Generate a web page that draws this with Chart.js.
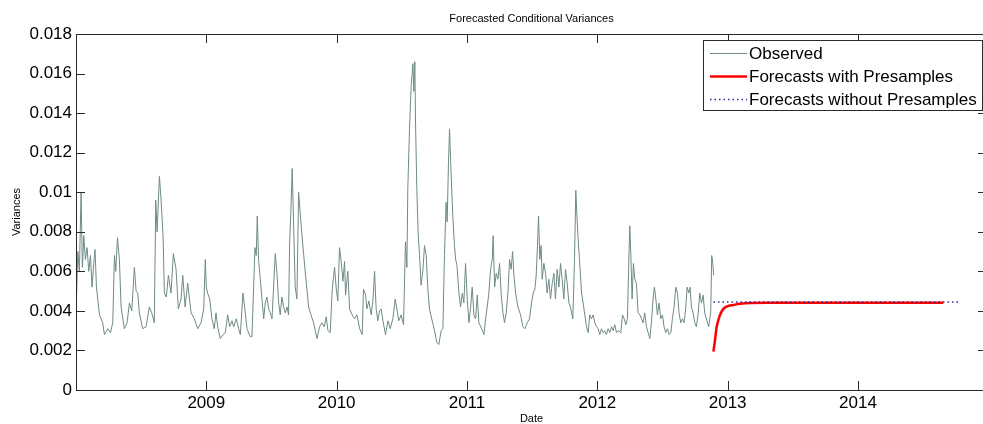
<!DOCTYPE html>
<html>
<head>
<meta charset="utf-8">
<title>Forecasted Conditional Variances</title>
<script src="https://cdn.jsdelivr.net/npm/chart.js@4.4.1/dist/chart.umd.min.js"></script>
<style>
    html, body { margin: 0; padding: 0; background: #fff; overflow: hidden; }
    #caixa { width: 983px; height: 424px; overflow: hidden; }
</style>
</head>
<body>
<div id="caixa"><canvas id="grafico" width="992" height="424"></canvas></div>
<script>
// Observed conditional variances (decimal years)
const obsYears = [
    2008.003, 2008.014, 2008.026, 2008.039, 2008.049, 2008.060, 2008.072, 2008.085, 2008.098, 2008.111,
    2008.123, 2008.136, 2008.146, 2008.157, 2008.180, 2008.205, 2008.218, 2008.244, 2008.264, 2008.282,
    2008.295, 2008.305, 2008.318, 2008.333, 2008.346, 2008.371, 2008.392, 2008.410, 2008.428, 2008.448,
    2008.461, 2008.474, 2008.486, 2008.512, 2008.538, 2008.563, 2008.581, 2008.601, 2008.612, 2008.622,
    2008.640, 2008.653, 2008.668, 2008.678, 2008.693, 2008.709, 2008.729, 2008.747, 2008.768, 2008.785,
    2008.806, 2008.819, 2008.837, 2008.857, 2008.883, 2008.908, 2008.934, 2008.959, 2008.980,
    2008.992, 2009.000, 2009.010, 2009.026, 2009.043, 2009.061, 2009.074, 2009.087, 2009.107, 2009.128,
    2009.146, 2009.164, 2009.179, 2009.197, 2009.210, 2009.230, 2009.248, 2009.261, 2009.281, 2009.299,
    2009.312, 2009.337, 2009.350, 2009.363, 2009.373, 2009.383, 2009.391, 2009.401, 2009.414, 2009.427,
    2009.440, 2009.452, 2009.465, 2009.478, 2009.491, 2009.504, 2009.516, 2009.529, 2009.542, 2009.555,
    2009.567, 2009.580, 2009.593, 2009.606, 2009.619, 2009.631, 2009.639, 2009.649, 2009.659, 2009.670,
    2009.682, 2009.695, 2009.708, 2009.721, 2009.734, 2009.746, 2009.767, 2009.785, 2009.803, 2009.823,
    2009.849, 2009.869, 2009.887, 2009.905, 2009.920,
    2009.933, 2009.951, 2009.966, 2009.984, 2009.997, 2010.009, 2010.022, 2010.035, 2010.048, 2010.061,
    2010.068, 2010.086, 2010.099, 2010.119, 2010.137, 2010.155, 2010.165, 2010.176, 2010.196, 2010.206,
    2010.222, 2010.232, 2010.247, 2010.265, 2010.278, 2010.291, 2010.303, 2010.316, 2010.329, 2010.342,
    2010.355, 2010.375, 2010.393, 2010.411, 2010.431, 2010.449, 2010.462, 2010.477, 2010.495, 2010.513,
    2010.528, 2010.539, 2010.546, 2010.559, 2010.572, 2010.585, 2010.592, 2010.600, 2010.605, 2010.615,
    2010.625, 2010.636, 2010.648, 2010.661, 2010.674, 2010.687, 2010.700, 2010.712, 2010.733, 2010.751,
    2010.769, 2010.784, 2010.802, 2010.815, 2010.827, 2010.840, 2010.848, 2010.858, 2010.866, 2010.878,
    2010.891, 2010.904,
    2010.913, 2010.923, 2010.938, 2010.951, 2010.964, 2010.976, 2010.989, 2011.002, 2011.015, 2011.028,
    2011.040, 2011.053, 2011.066, 2011.079, 2011.091, 2011.112, 2011.130, 2011.143, 2011.155, 2011.168,
    2011.181, 2011.194, 2011.201, 2011.212, 2011.224, 2011.237, 2011.250, 2011.263, 2011.276, 2011.288,
    2011.301, 2011.314, 2011.327, 2011.339, 2011.350, 2011.360, 2011.373, 2011.391, 2011.411, 2011.429,
    2011.444, 2011.462, 2011.480, 2011.495, 2011.508, 2011.521, 2011.531, 2011.541, 2011.549, 2011.559,
    2011.569, 2011.577, 2011.590, 2011.603, 2011.615, 2011.628, 2011.641, 2011.654, 2011.667, 2011.679,
    2011.692, 2011.705, 2011.718, 2011.730, 2011.743, 2011.756, 2011.769, 2011.782, 2011.794, 2011.812,
    2011.825, 2011.835, 2011.845, 2011.853, 2011.863, 2011.879,
    2011.891, 2011.904, 2011.917, 2011.930, 2011.942, 2011.955, 2011.968, 2011.981, 2011.994, 2012.006,
    2012.019, 2012.032, 2012.045, 2012.057, 2012.070, 2012.083, 2012.096, 2012.109, 2012.121, 2012.134,
    2012.147, 2012.160, 2012.180, 2012.193, 2012.206, 2012.219, 2012.231, 2012.242, 2012.249, 2012.257,
    2012.267, 2012.277, 2012.288, 2012.300, 2012.313, 2012.326, 2012.339, 2012.351, 2012.364, 2012.377,
    2012.390, 2012.403, 2012.415, 2012.428, 2012.438, 2012.449, 2012.461, 2012.474, 2012.487, 2012.500,
    2012.512, 2012.525, 2012.538, 2012.551, 2012.564, 2012.576, 2012.589, 2012.602, 2012.615, 2012.627,
    2012.640, 2012.653, 2012.666, 2012.679, 2012.689, 2012.702, 2012.712, 2012.722, 2012.735, 2012.748,
    2012.760, 2012.773, 2012.786, 2012.799, 2012.812, 2012.824, 2012.837, 2012.855, 2012.870, 2012.878,
    2012.886, 2012.893
];
const obsValues = [
    0.0045, 0.0070, 0.0060, 0.0100, 0.0062, 0.0078, 0.0066, 0.0072, 0.0060, 0.0068,
    0.0052, 0.0064, 0.0071, 0.0052, 0.0038, 0.0034, 0.0028, 0.0031, 0.0029, 0.0034,
    0.0068, 0.0060, 0.0077, 0.0066, 0.0042, 0.0031, 0.0034, 0.0044, 0.0040, 0.0062,
    0.0050, 0.0049, 0.0039, 0.0031, 0.0032, 0.0042, 0.0039, 0.0034, 0.0096, 0.0080,
    0.0108, 0.0096, 0.0078, 0.0049, 0.0047, 0.0058, 0.0049, 0.0069, 0.0061, 0.0041,
    0.0046, 0.0058, 0.0042, 0.0054, 0.0039, 0.0036, 0.0031, 0.0034, 0.0041,
    0.0066, 0.0052, 0.0049, 0.0046, 0.0036, 0.0031, 0.0039, 0.0032, 0.0026, 0.0028,
    0.0029, 0.0038, 0.0032, 0.0035, 0.0032, 0.0036, 0.0031, 0.0028, 0.0049, 0.0039,
    0.0031, 0.0027, 0.0027, 0.0052, 0.0072, 0.0068, 0.0088, 0.0066, 0.0056, 0.0046,
    0.0036, 0.0044, 0.0047, 0.0041, 0.0039, 0.0036, 0.0052, 0.0069, 0.0059, 0.0044,
    0.0038, 0.0047, 0.0042, 0.0039, 0.0042, 0.0038, 0.0074, 0.0091, 0.0112, 0.0083,
    0.0052, 0.0046, 0.0100, 0.0089, 0.0078, 0.0069, 0.0054, 0.0042, 0.0038, 0.0034,
    0.0026, 0.0032, 0.0034, 0.0032, 0.0037,
    0.0030, 0.0029, 0.0051, 0.0062, 0.0051, 0.0045, 0.0072, 0.0065, 0.0055, 0.0065,
    0.0048, 0.0060, 0.0041, 0.0038, 0.0036, 0.0038, 0.0035, 0.0031, 0.0028, 0.0051,
    0.0048, 0.0041, 0.0045, 0.0038, 0.0045, 0.0060, 0.0041, 0.0035, 0.0040, 0.0041,
    0.0035, 0.0028, 0.0035, 0.0031, 0.0036, 0.0046, 0.0041, 0.0035, 0.0038, 0.0033,
    0.0075, 0.0062, 0.0102, 0.0132, 0.0154, 0.0165, 0.0151, 0.0166, 0.0136, 0.0102,
    0.0080, 0.0068, 0.0053, 0.0060, 0.0073, 0.0068, 0.0051, 0.0041, 0.0035, 0.0030,
    0.0024, 0.0023, 0.0030, 0.0031, 0.0068, 0.0095, 0.0085, 0.0115, 0.0132, 0.0110,
    0.0088, 0.0073,
    0.0066, 0.0063, 0.0049, 0.0042, 0.0049, 0.0044, 0.0064, 0.0046, 0.0034, 0.0042,
    0.0052, 0.0038, 0.0036, 0.0048, 0.0034, 0.0031, 0.0028, 0.0036, 0.0042, 0.0049,
    0.0061, 0.0066, 0.0078, 0.0052, 0.0059, 0.0056, 0.0064, 0.0048, 0.0039, 0.0034,
    0.0039, 0.0049, 0.0066, 0.0061, 0.0070, 0.0058, 0.0049, 0.0042, 0.0038, 0.0032,
    0.0031, 0.0034, 0.0036, 0.0044, 0.0049, 0.0051, 0.0058, 0.0073, 0.0088, 0.0066,
    0.0073, 0.0056, 0.0064, 0.0059, 0.0049, 0.0056, 0.0046, 0.0054, 0.0059, 0.0046,
    0.0061, 0.0052, 0.0064, 0.0056, 0.0046, 0.0061, 0.0054, 0.0044, 0.0042, 0.0036,
    0.0066, 0.0101, 0.0086, 0.0076, 0.0066, 0.0049,
    0.0044, 0.0038, 0.0032, 0.0029, 0.0038, 0.0036, 0.0038, 0.0034, 0.0032, 0.0031,
    0.0028, 0.0031, 0.0029, 0.0030, 0.0028, 0.0031, 0.0029, 0.0032, 0.0030, 0.0033,
    0.0029, 0.0030, 0.0029, 0.0038, 0.0036, 0.0033, 0.0036, 0.0066, 0.0083, 0.0069,
    0.0046, 0.0064, 0.0056, 0.0054, 0.0039, 0.0038, 0.0036, 0.0034, 0.0039, 0.0032,
    0.0029, 0.0026, 0.0034, 0.0046, 0.0052, 0.0046, 0.0038, 0.0044, 0.0036, 0.0038,
    0.0032, 0.0029, 0.0031, 0.0028, 0.0029, 0.0036, 0.0042, 0.0052, 0.0049, 0.0039,
    0.0034, 0.0036, 0.0034, 0.0042, 0.0052, 0.0049, 0.0052, 0.0042, 0.0039, 0.0034,
    0.0032, 0.0038, 0.0049, 0.0044, 0.0048, 0.0039, 0.0036, 0.0032, 0.0039, 0.0068,
    0.0064, 0.0058
];

// Forecasts with presamples (red)
const fcYears = [2012.891, 2012.903, 2012.916, 2012.929, 2012.942, 2012.967, 2013.006, 2013.044, 2013.095, 2013.172, 2013.300, 2014.654];
const fcValues = [0.00194, 0.00253, 0.00320, 0.00354, 0.00380, 0.00410, 0.00425, 0.00430, 0.00436, 0.00440, 0.00441, 0.00441];

// Forecasts without presamples (dotted)
const semYears = [2012.891, 2014.769];
const semValues = [0.00445, 0.00445];

const xTicks = [2009, 2010, 2011, 2012, 2013, 2014];
const xTickLabels = ['2009', '2010', '2011', '2012', '2013', '2014'];
const yTicks = [0, 0.002, 0.004, 0.006, 0.008, 0.01, 0.012, 0.014, 0.016, 0.018];
const yTickLabels = ['0', '0.002', '0.004', '0.006', '0.008', '0.01', '0.012', '0.014', '0.016', '0.018'];

const fonte = '"Liberation Sans", Arial, sans-serif';
const corObs = '#6f8a86';

function pares(xs, ys) {
    return xs.map((x, i) => ({ x, y: ys[i] }));
}

// Box and inward ticks on all four sides, like the original figure
const caixaTicks = {
    id: 'caixaTicks',
    afterDatasetsDraw(chart) {
        const { ctx, chartArea: a, scales: { x, y } } = chart;
        const tam = 9;
        ctx.save();
        ctx.strokeStyle = '#2a2a2a';
        ctx.lineWidth = 1;
        ctx.beginPath();
        ctx.rect(a.left + 0.5, a.top + 0.5, a.right - a.left, a.bottom - a.top);
        xTicks.forEach(v => {
            const px = Math.round(x.getPixelForValue(v)) + 0.5;
            ctx.moveTo(px, a.bottom); ctx.lineTo(px, a.bottom - tam);
            ctx.moveTo(px, a.top); ctx.lineTo(px, a.top + tam);
        });
        yTicks.forEach(v => {
            const py = Math.round(y.getPixelForValue(v)) + 0.5;
            ctx.moveTo(a.left, py); ctx.lineTo(a.left + tam, py);
            ctx.moveTo(a.right, py); ctx.lineTo(a.right - tam, py);
        });
        ctx.stroke();

        // title centred over the axes
        ctx.fillStyle = '#000';
        ctx.font = '11px ' + fonte;
        ctx.textAlign = 'center';
        ctx.textBaseline = 'middle';
        ctx.fillText('Forecasted Conditional Variances', (a.left + a.right) / 2, 19);
        ctx.restore();
    }
};

// Legend box in the upper right corner
const legendaCaixa = {
    id: 'legendaCaixa',
    afterDraw(chart) {
        const { ctx } = chart;
        const itens = chart.data.datasets;
        ctx.save();
        ctx.fillStyle = '#fff';
        ctx.strokeStyle = '#2a2a2a';
        ctx.lineWidth = 1;
        ctx.fillRect(703.5, 40.5, 279, 70);
        ctx.strokeRect(703.5, 40.5, 279, 70);
        const linhasY = [53, 76, 99];
        ctx.font = '17px ' + fonte;
        ctx.textAlign = 'left';
        ctx.textBaseline = 'middle';
        itens.forEach((ds, i) => {
            const yy = linhasY[i] + 0.5;
            ctx.beginPath();
            ctx.strokeStyle = ds.borderColor;
            ctx.lineWidth = ds.borderWidth;
            ctx.setLineDash(ds.borderDash || []);
            ctx.moveTo(710, yy);
            ctx.lineTo(747, yy);
            ctx.stroke();
            ctx.setLineDash([]);
            ctx.fillStyle = '#000';
            ctx.fillText(ds.label, 749, linhasY[i] + 1);
        });
        ctx.restore();
    }
};

new Chart(document.getElementById('grafico'), {
    type: 'line',
    data: {
        datasets: [
            { label: 'Observed', data: pares(obsYears, obsValues), borderColor: corObs, borderWidth: 1, pointRadius: 0, tension: 0, order: 3 },
            { label: 'Forecasts with Presamples', data: pares(fcYears, fcValues), borderColor: '#ff0000', borderWidth: 2.5, pointRadius: 0, cubicInterpolationMode: 'monotone', order: 2 },
            { label: 'Forecasts without Presamples', data: pares(semYears, semValues), borderColor: '#2a2a9a', borderWidth: 1.5, borderDash: [1.5, 3], pointRadius: 0, order: 1 }
        ]
    },
    options: {
        responsive: false,
        animation: false,
        devicePixelRatio: 1,
        layout: { padding: { left: 0, right: 5, top: 34, bottom: 0 } },
        plugins: { legend: { display: false }, tooltip: { enabled: false } },
        scales: {
            x: {
                type: 'linear',
                min: 2008.0,
                max: 2014.99,
                grid: { display: false, drawTicks: false },
                border: { display: false },
                afterBuildTicks: s => { s.ticks = xTicks.map(v => ({ value: v })); },
                afterFit: s => { s.height = 34; },
                ticks: {
                    color: '#000',
                    font: { family: fonte, size: 17 },
                    padding: 3,
                    maxRotation: 0,
                    callback: (v, i) => xTickLabels[i]
                },
                title: { display: true, text: 'Date', color: '#000', font: { family: fonte, size: 11, lineHeight: 1 }, padding: { top: 0, bottom: 0 } }
            },
            y: {
                min: 0,
                max: 0.018,
                grid: { display: false, drawTicks: false },
                border: { display: false },
                afterBuildTicks: s => { s.ticks = yTicks.map(v => ({ value: v })); },
                afterFit: s => { s.width = 76; },
                ticks: {
                    color: '#000',
                    font: { family: fonte, size: 17 },
                    padding: 4,
                    callback: (v, i) => yTickLabels[i]
                },
                title: { display: true, text: 'Variances', color: '#000', font: { family: fonte, size: 11 }, padding: { top: 10, bottom: 0 } }
            }
        }
    },
    plugins: [caixaTicks, legendaCaixa]
});
</script>
</body>
</html>
